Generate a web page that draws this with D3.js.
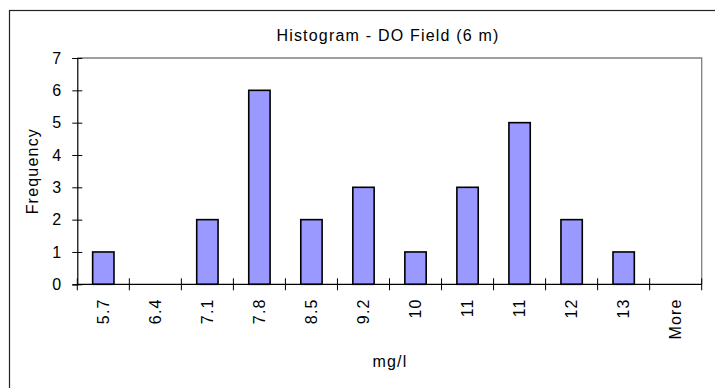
<!DOCTYPE html>
<html>
<head>
<meta charset="utf-8">
<script src="https://cdn.jsdelivr.net/npm/d3@7"></script>
<style>
  body { margin: 0; background: #fff; }
  svg text { font-family: "Liberation Sans", Arial, sans-serif; fill: #000; }
</style>
</head>
<body>
<div id="chart"></div>
<script>
// bins as labelled in the sheet (two bins round to "11")
var bin_labels = ["5.7", "6.4", "7.1", "7.8", "8.5", "9.2", "10", "11", "11", "12", "13", "More"]
var frequency = [1, 0, 2, 6, 2, 3, 1, 3, 5, 2, 1, 0]
var y_ticks = [0, 1, 2, 3, 4, 5, 6, 7]

var W = 715, H = 388
var margin = {left: 77.3, right: 715 - 701.7, top: 58, bottom: 388 - 284.3}
var fs = "16px", ls = "1.2px"

var svg = d3.select("#chart").append("svg")
    .attr("width", W)
    .attr("height", H)

// outer chart frame (runs off the right and bottom of the picture)
svg.append("rect")
    .attr("x", 9.5).attr("y", 10.5)
    .attr("width", W).attr("height", H)
    .attr("fill", "none")
    .attr("stroke", "#222")
    .attr("stroke-width", 1.2)

var x = d3.scaleBand()
    .domain(d3.range(bin_labels.length))
    .range([margin.left, W - margin.right])
    .paddingInner(0.59)
    .paddingOuter(0.295)

var y = d3.scaleLinear()
    .domain([0, 7])
    .range([H - margin.bottom, margin.top])

var step = x.step()
var x0 = x(0) - step * 0.295   // left edge of first bin

// plot area: grey top/right
svg.append("path")
    .attr("d", `M${margin.left},${y(7)}H${W - margin.right}V${y(0)}`)
    .attr("fill", "none")
    .attr("stroke", "#808080")
    .attr("stroke-width", 1.3)

// bars (empty bins draw nothing)
var bars = frequency.map(function(v, i){ return {bin: i, value: v} })
    .filter(function(d){ return d.value > 0 })

svg.append("g")
    .selectAll("rect")
    .data(bars)
    .enter().append("rect")
    .attr("x", function(d){ return x(d.bin) })
    .attr("y", function(d){ return y(d.value) })
    .attr("width", x.bandwidth())
    .attr("height", function(d){ return y(0) - y(d.value) })
    .attr("fill", "#9999ff")
    .attr("stroke", "#000")
    .attr("stroke-width", 1.6)

// y axis
var yAxis = svg.append("g")
    .attr("transform", `translate(${margin.left},0)`)
    .call(d3.axisLeft(y).tickValues(y_ticks).tickSize(5).tickPadding(10).tickFormat(d3.format("d")))
yAxis.select(".domain").attr("stroke", "#000").attr("stroke-width", 1.2)
yAxis.selectAll(".tick line").attr("x2", 5).attr("x1", -5).attr("stroke", "#000")
yAxis.selectAll(".tick text")
    .style("font-size", fs).style("letter-spacing", ls)
    .attr("fill", "#000")

// x axis: ticks on bin edges, labels rotated in bin centres
var xg = svg.append("g")
xg.append("line")
    .attr("x1", margin.left).attr("x2", W - margin.right)
    .attr("y1", y(0)).attr("y2", y(0))
    .attr("stroke", "#000").attr("stroke-width", 1.2)

xg.selectAll(".xtick")
    .data(d3.range(bin_labels.length + 1))
    .enter().append("line")
    .attr("class", "xtick")
    .attr("x1", function(i){ return x0 + i * step })
    .attr("x2", function(i){ return x0 + i * step })
    .attr("y1", y(0) - 6)
    .attr("y2", y(0) + 6)
    .attr("stroke", "#000")

xg.selectAll(".xlabel")
    .data(bin_labels)
    .enter().append("text")
    .attr("class", "xlabel")
    .attr("transform", function(d, i){
        return `translate(${x(i) + x.bandwidth() / 2},${y(0) + 14}) rotate(-90)`
    })
    .attr("text-anchor", "end")
    .attr("dy", "0.35em")
    .style("font-size", fs).style("letter-spacing", ls)
    .text(function(d){ return d })

// titles
svg.append("text")
    .attr("x", 388).attr("y", 41)
    .attr("text-anchor", "middle")
    .style("font-size", fs).style("letter-spacing", ls)
    .text("Histogram - DO Field (6 m)")

svg.append("text")
    .attr("x", 390).attr("y", 367)
    .attr("text-anchor", "middle")
    .style("font-size", fs).style("letter-spacing", ls)
    .text("mg/l")

svg.append("text")
    .attr("transform", `translate(38,${(y(0) + y(7)) / 2}) rotate(-90)`)
    .attr("text-anchor", "middle")
    .style("font-size", fs).style("letter-spacing", ls)
    .text("Frequency")
</script>
</body>
</html>
